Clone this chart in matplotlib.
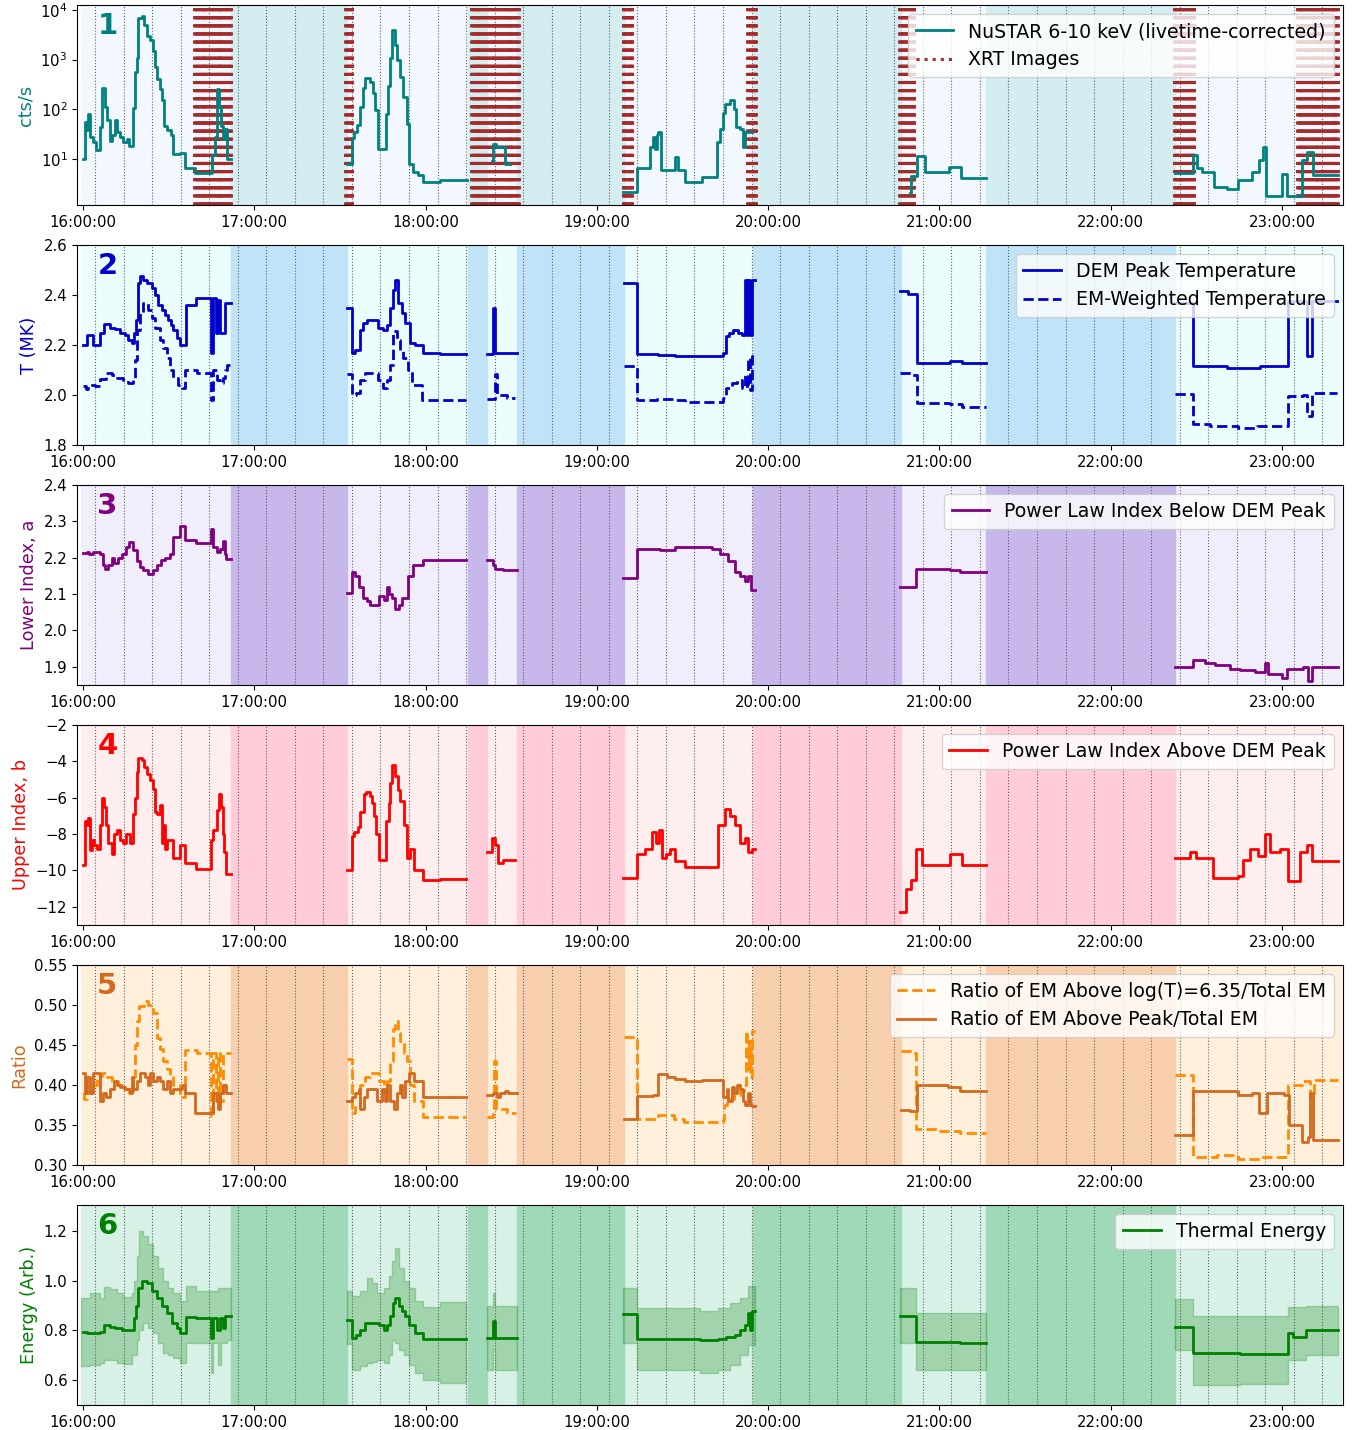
#!/usr/bin/env python3
"""Six-panel time series: NuSTAR counts and DEM-derived parameters."""

import datetime as dt

import matplotlib
matplotlib.use("Agg")
import matplotlib.dates as mdates
import matplotlib.pyplot as plt
import numpy as np
from matplotlib.ticker import NullLocator

# --------------------------------------------------------------------------
# data: times are minutes after 16:00:00, one inner list per observing orbit
# --------------------------------------------------------------------------

NUSTAR_T = [
    [0.1, 0.7, 1.5, 1.9, 2.5, 3.4, 4.6, 5.9, 6.5, 7.7, 8.5, 9.5, 10.3, 11.2, 12.0,
     12.9, 13.9, 15.3, 16.2, 17.4, 18.2, 18.8, 19.4, 20.5, 21.4, 22.3, 23.5, 24.4,
     25.2, 26.1, 27.0, 27.8, 28.5, 29.3, 30.7, 31.6, 34.0, 35.7, 39.2, 45.1, 46.2,
     47.1, 47.8, 48.2, 48.9, 49.7, 50.3, 51.7],
    [92.4, 94.1, 94.9, 96.1, 97.0, 98.0, 98.8, 100.5, 101.5, 102.3, 103.5, 106.2,
     107.0, 107.6, 108.2, 109.3, 110.1, 111.0, 112.2, 113.4, 114.3, 115.7, 117.5,
     119.0, 125.0, 134.5],
    [143.2, 143.5, 144.7, 147.8, 149.6],
    [189.3, 194.0, 198.6, 199.6, 200.4, 201.0, 201.6, 202.4, 207.4, 208.5, 210.9,
     216.7, 222.0, 223.1, 224.1, 224.9, 226.6, 228.0, 228.7, 230.1, 231.1, 231.9,
     234.2],
    [289.7, 289.9, 292.0, 295.0, 303.5, 307.5, 316.3],
    [382.5, 389.0, 390.1, 391.9, 396.2, 400.9, 404.7, 409.4, 412.1, 413.5, 414.4,
     419.9, 421.9, 426.9, 428.9, 431.0, 439.7],
]
NUSTAR_CTS = [
    [10, 55, 38, 80, 27, 22, 15, 44, 270, 110, 60, 23, 30, 60, 35, 27, 22, 25, 18,
     105, 550, 1100, 7000, 7500, 5000, 3000, 2500, 1500, 700, 400, 250, 150, 45, 38,
     30, 12.5, 13, 6.5, 5.2, 12, 28, 250, 110, 45, 25, 40, 10, 10],
    [8, 26, 35, 48, 110, 270, 420, 350, 210, 95, 16, 80, 300, 1100, 4000, 2000,
     1000, 450, 175, 50, 8, 5.4, 4.8, 3.4, 3.7, 3.7],
    [9, 20, 17, 8, 8],
    [2.1, 6.5, 17, 28, 16, 30, 35, 5.9, 11, 6, 3.4, 4.3, 22, 40, 83, 130, 150, 100,
     44, 40, 17, 35, 35],
    [2, 4.6, 11.5, 5.3, 6.8, 4.1, 4.1],
    [5.1, 11.8, 6.4, 5.3, 2.7, 2.5, 3.7, 5.4, 9.5, 17, 1.8, 4.9, 1.8, 9.3, 13.8,
     4.7, 4.7],
]

XRT_WINDOWS = [(38.9, 51.7), (91.8, 94.3), (135.9, 152.7), (189.0, 192.5),
               (232.6, 235.6), (286.0, 291.1), (382.1, 389.2), (425.2, 439.7)]

TPEAK_T = [
    [0, 1.5, 3.4, 6.0, 7.4, 9.5, 11.2, 13.0, 14.7, 15.9, 17.0, 17.9, 18.6, 19.2,
     20.0, 21.1, 22.3, 24.1, 25.2, 26.4, 27.6, 28.7, 29.9, 30.7, 31.6, 32.8, 34.0,
     36.1, 39.6, 44.7, 45.7, 46.6, 47.4, 48.0, 49.4, 49.7, 51.7],
    [92.4, 94.1, 95.3, 97.0, 98.2, 99.4, 103.5, 105.2, 106.4, 107.6, 108.5, 109.3,
     110.5, 111.6, 112.8, 114.5, 116.3, 119.0, 125.0, 134.2],
    [141.4, 143.7, 144.4, 152.1],
    [189.5, 194.2, 201.6, 207.4, 222.0, 224.1, 225.2, 226.4, 227.8, 229.6, 230.7,
     231.9, 232.5, 233.1, 233.6, 234.2, 235.4],
    [286.2, 289.1, 292.0, 303.7, 307.8, 316.3],
    [382.5, 388.7, 400.6, 412.3, 422.2, 428.9, 430.4, 439.2],
]
TPEAK = [
    [2.20, 2.24, 2.20, 2.25, 2.285, 2.27, 2.265, 2.25, 2.24, 2.22, 2.21, 2.25, 2.30,
     2.45, 2.475, 2.46, 2.45, 2.43, 2.40, 2.36, 2.34, 2.32, 2.30, 2.28, 2.26, 2.23,
     2.20, 2.36, 2.39, 2.17, 2.39, 2.25, 2.38, 2.25, 2.25, 2.37, 2.37],
    [2.35, 2.17, 2.18, 2.26, 2.29, 2.30, 2.27, 2.26, 2.28, 2.35, 2.42, 2.46, 2.37,
     2.33, 2.29, 2.21, 2.20, 2.17, 2.165, 2.165],
    [2.165, 2.35, 2.17, 2.17],
    [2.45, 2.165, 2.16, 2.155, 2.155, 2.17, 2.235, 2.25, 2.26, 2.25, 2.24, 2.46,
     2.24, 2.46, 2.24, 2.46, 2.46],
    [2.415, 2.405, 2.13, 2.135, 2.13, 2.13],
    [2.37, 2.115, 2.11, 2.115, 2.375, 2.155, 2.375, 2.375],
]

TEM_T = [
    [0, 1.05, 1.9, 4.2, 6.0, 8.1, 10.0, 11.8, 14.1, 15.9, 17.6, 18.2, 18.8, 20.0,
     21.1, 22.9, 24.1, 25.2, 27.0, 28.1, 29.3, 30.5, 31.6, 33.4, 34.6, 35.7, 39.8,
     43.9, 44.7, 45.7, 46.8, 48.0, 49.1, 49.7, 50.3, 51.7],
    [92.4, 94.1, 95.6, 97.0, 98.8, 100.5, 103.5, 105.2, 106.4, 107.6, 108.7, 109.9,
     111.0, 112.2, 114.0, 115.1, 118.6, 125.0, 134.2],
    [141.4, 144.3, 144.9, 147.2, 148.4, 151.3],
    [189.5, 194.0, 201.0, 207.4, 210.9, 224.3, 225.2, 227.2, 229.0, 230.7, 231.9,
     232.5, 233.1, 233.6, 234.2, 235.4],
    [286.2, 290.3, 292.0, 303.7, 307.8, 316.3],
    [382.5, 388.7, 394.8, 404.7, 411.1, 422.2, 427.5, 428.9, 430.4, 439.2],
]
TEM = [
    [2.035, 2.025, 2.04, 2.035, 2.063, 2.09, 2.08, 2.07, 2.06, 2.05, 2.06, 2.14,
     2.26, 2.33, 2.37, 2.34, 2.31, 2.27, 2.22, 2.19, 2.15, 2.10, 2.07, 2.04, 2.03,
     2.10, 2.09, 2.09, 1.98, 2.10, 2.06, 2.05, 2.07, 2.10, 2.12, 2.12],
    [2.085, 2.0, 2.01, 2.06, 2.09, 2.09, 2.06, 2.03, 2.06, 2.12, 2.255, 2.22, 2.18,
     2.15, 2.10, 2.04, 1.98, 1.98, 1.98],
    [1.985, 2.085, 2.0, 2.0, 1.99, 1.99],
    [2.115, 1.98, 1.985, 1.98, 1.972, 1.99, 2.03, 2.05, 2.06, 2.03, 2.08, 2.03,
     2.15, 2.02, 2.155, 2.155],
    [2.09, 2.08, 1.97, 1.965, 1.953, 1.953],
    [2.005, 1.883, 1.875, 1.87, 1.875, 1.996, 2.0, 1.916, 2.01, 2.01],
]

LOWER_T = [
    [0, 1.28, 2.22, 3.62, 5.96, 7.12, 7.71, 8.88, 10.04, 10.86, 12.38, 13.55, 15.06,
     16.23, 17.64, 18.81, 19.97, 21.14, 22.89, 24.64, 25.81, 27.21, 28.73, 30.48,
     31.65, 33.99, 35.74, 39.59, 44.73, 45.42, 46.82, 48.0, 48.93, 49.75, 50.1,
     51.73],
    [92.44, 94.19, 95.36, 96.53, 98.05, 99.45, 100.62, 103.53, 105.28, 106.45,
     107.04, 108.2, 109.37, 110.54, 111.7, 113.69, 115.56, 119.06, 125.13, 134.2],
    [141.4, 143.5, 144.5, 147.0, 152.1],
    [189.2, 194.1, 202.1, 207.4, 216.1, 220.3, 223.1, 225.9, 228.4, 230.1, 231.9,
     232.9, 234.0, 235.4],
    [286.2, 291.8, 303.7, 307.2, 316.3],
    [382.5, 388.8, 393.0, 396.5, 401.8, 405.3, 410.5, 414.1, 415.1, 420.0, 421.8,
     427.4, 429.1, 430.5, 439.6],
]
LOWER = [
    [2.213, 2.215, 2.21, 2.215, 2.21, 2.18, 2.17, 2.18, 2.20, 2.185, 2.20, 2.21,
     2.23, 2.242, 2.22, 2.19, 2.175, 2.165, 2.154, 2.165, 2.18, 2.195, 2.20, 2.21,
     2.257, 2.288, 2.25, 2.24, 2.28, 2.23, 2.215, 2.225, 2.245, 2.21, 2.196, 2.196],
    [2.104, 2.162, 2.15, 2.12, 2.09, 2.08, 2.07, 2.095, 2.085, 2.12, 2.10, 2.09,
     2.06, 2.07, 2.09, 2.15, 2.18, 2.195, 2.195, 2.195],
    [2.195, 2.18, 2.17, 2.165, 2.165],
    [2.145, 2.225, 2.22, 2.23, 2.23, 2.225, 2.21, 2.19, 2.16, 2.15, 2.135, 2.15,
     2.11, 2.11],
    [2.12, 2.17, 2.165, 2.16, 2.16],
    [1.9, 1.918, 1.91, 1.905, 1.895, 1.89, 1.885, 1.91, 1.88, 1.87, 1.895, 1.9,
     1.86, 1.9, 1.9],
]

UPPER_T = [
    [0, 0.72, 1.54, 1.89, 2.45, 3.04, 3.85, 4.79, 5.96, 6.54, 7.36, 8.06, 8.88,
     10.04, 10.86, 11.79, 12.96, 13.9, 15.07, 16.47, 17.64, 18.22, 18.81, 19.16,
     20.56, 21.37, 22.31, 23.47, 24.41, 25.23, 26.05, 26.98, 27.56, 28.15, 28.73,
     29.31, 30.48, 31.42, 33.99, 35.74, 39.59, 44.73, 45.66, 47.06, 47.65, 48.23,
     48.93, 49.52, 50.1, 51.73],
    [92.44, 94.19, 95.01, 96.18, 97.11, 98.28, 99.21, 100.38, 101.2, 102.02, 102.72,
     103.53, 106.22, 107.04, 107.62, 108.2, 109.37, 110.19, 111.12, 112.29, 113.46,
     114.39, 115.79, 119.06, 125.13, 134.2],
    [141.4, 143.2, 144.5, 145.5, 147.0, 151.5],
    [189.2, 194.1, 196.9, 199.3, 200.7, 201.8, 202.8, 204.2, 205.6, 207.4, 210.9,
     222.4, 224.9, 226.6, 228.4, 230.1, 231.9, 232.9, 234.3, 235.4],
    [286.2, 288.3, 290.1, 291.8, 293.9, 303.7, 307.9, 316.3],
    [382.5, 387.8, 389.9, 395.8, 404.6, 406.4, 408.8, 411.6, 414.1, 415.8, 419.3,
     422.1, 426.3, 428.8, 430.5, 439.6],
]
UPPER = [
    [-9.7, -7.3, -7.5, -7.1, -8.9, -8.3, -8.6, -8.8, -7.5, -6.0, -6.5, -7.5, -8.5,
     -9.1, -8.0, -7.8, -8.3, -8.5, -8.0, -8.5, -6.9, -6.0, -4.6, -3.8, -3.9, -4.3,
     -4.7, -5.0, -5.5, -6.8, -6.9, -6.4, -8.5, -7.5, -8.8, -8.3, -8.3, -9.3, -8.6,
     -9.6, -9.9, -8.3, -7.8, -6.7, -5.8, -6.5, -8.0, -9.0, -10.2, -10.2],
    [-10.0, -8.1, -7.9, -7.6, -6.8, -5.8, -5.7, -5.9, -6.3, -7.0, -8.0, -9.4, -7.3,
     -6.3, -5.2, -4.2, -4.8, -5.6, -6.2, -7.5, -9.3, -8.8, -10.0, -10.5, -10.45,
     -10.45],
    [-9.0, -8.2, -8.6, -9.6, -9.4, -9.4],
    [-10.4, -9.1, -8.8, -7.9, -8.5, -7.8, -9.3, -9.1, -8.8, -9.5, -9.8, -7.5, -6.6,
     -7.0, -7.5, -8.5, -8.2, -9.0, -8.8, -8.8],
    [-12.3, -11.0, -10.5, -8.8, -9.7, -9.1, -9.7, -9.7],
    [-9.3, -9.0, -9.3, -10.4, -10.3, -9.4, -8.8, -9.2, -8.0, -9.0, -8.8, -10.6,
     -9.0, -8.6, -9.5, -9.5],
]

RATIO_HOT_T = [
    [0, 0.26, 1.54, 3.04, 4.79, 6.54, 8.29, 10.04, 12.38, 14.37, 16.23, 17.64,
     18.22, 18.81, 19.74, 21.37, 22.89, 24.41, 25.81, 26.98, 28.15, 29.31, 30.48,
     31.65, 33.99, 35.74, 39.82, 44.73, 45.66, 46.59, 47.41, 48.0, 48.93, 49.52,
     51.73],
    [92.44, 94.19, 95.36, 97.11, 98.86, 100.62, 103.53, 105.28, 106.45, 107.62,
     108.55, 109.37, 110.19, 111.12, 112.29, 113.46, 114.63, 115.79, 119.06, 125.13,
     134.2],
    [141.4, 143.5, 144.1, 144.7, 146.1, 148.4, 151.7],
    [189.5, 194.0, 201.3, 206.9, 210.4, 224.2, 224.7, 225.6, 228.0, 230.3, 231.5,
     232.1, 232.6, 233.2, 233.8, 234.4, 235.5],
    [286.4, 290.3, 291.8, 300.2, 303.7, 307.2, 316.3],
    [382.5, 388.9, 397.1, 404.7, 412.3, 422.2, 426.9, 430.0, 431.1, 439.7],
]
RATIO_HOT = [
    [0.39, 0.382, 0.39, 0.40, 0.411, 0.415, 0.41, 0.405, 0.40, 0.395, 0.39, 0.41,
     0.45, 0.48, 0.499, 0.505, 0.50, 0.49, 0.459, 0.445, 0.43, 0.42, 0.41, 0.40,
     0.385, 0.444, 0.44, 0.361, 0.44, 0.38, 0.44, 0.38, 0.44, 0.44, 0.44],
    [0.432, 0.365, 0.375, 0.40, 0.41, 0.415, 0.405, 0.39, 0.405, 0.43, 0.47, 0.48,
     0.465, 0.455, 0.44, 0.43, 0.40, 0.38, 0.36, 0.36, 0.36],
    [0.36, 0.367, 0.43, 0.37, 0.37, 0.365, 0.365],
    [0.46, 0.358, 0.362, 0.358, 0.354, 0.356, 0.375, 0.383, 0.388, 0.392, 0.40,
     0.467, 0.42, 0.455, 0.41, 0.467, 0.467],
    [0.4425, 0.44, 0.345, 0.343, 0.3425, 0.34, 0.34],
    [0.413, 0.31, 0.312, 0.307, 0.31, 0.40, 0.405, 0.385, 0.406, 0.406],
]

RATIO_PEAK_T = [
    [0, 0.72, 1.54, 2.45, 3.62, 5.96, 7.12, 8.06, 9.46, 10.86, 11.79, 12.96, 14.71,
     16.47, 17.05, 17.64, 18.81, 19.97, 21.72, 22.89, 23.47, 24.64, 25.81, 26.98,
     28.15, 29.31, 30.48, 31.65, 34.57, 35.74, 39.24, 44.49, 45.66, 46.82, 47.41,
     48.0, 49.17, 50.1, 51.73],
    [92.44, 94.19, 95.36, 96.53, 97.11, 98.28, 99.45, 102.95, 104.7, 105.87, 106.45,
     107.62, 108.79, 109.95, 111.12, 111.7, 112.87, 114.04, 115.79, 119.06, 125.13,
     134.2],
    [141.4, 143.5, 145.1, 146.1, 147.8, 149.0, 152.1],
    [189.5, 194.2, 199.8, 201.6, 204.5, 207.4, 210.9, 216.7, 224.3, 225.5, 226.1,
     227.2, 228.0, 229.0, 230.1, 231.3, 231.9, 233.1, 233.6, 234.2, 235.5],
    [286.4, 289.7, 292.0, 303.1, 307.2, 316.3],
    [382.5, 388.9, 401.8, 404.7, 409.4, 412.1, 414.7, 420.7, 422.6, 426.9, 429.2,
     430.0, 430.8, 439.7],
]
RATIO_PEAK = [
    [0.415, 0.39, 0.41, 0.39, 0.415, 0.38, 0.39, 0.385, 0.395, 0.405, 0.40, 0.398,
     0.395, 0.39, 0.41, 0.395, 0.405, 0.415, 0.41, 0.40, 0.415, 0.405, 0.41, 0.405,
     0.395, 0.405, 0.39, 0.395, 0.40, 0.39, 0.365, 0.365, 0.39, 0.38, 0.37, 0.39,
     0.40, 0.39, 0.39],
    [0.38, 0.385, 0.39, 0.395, 0.37, 0.385, 0.395, 0.38, 0.395, 0.38, 0.40, 0.38,
     0.37, 0.39, 0.40, 0.385, 0.405, 0.415, 0.405, 0.385, 0.385, 0.385],
    [0.388, 0.39, 0.385, 0.39, 0.393, 0.39, 0.39],
    [0.358, 0.386, 0.387, 0.414, 0.41, 0.408, 0.405, 0.406, 0.385, 0.395, 0.38,
     0.398, 0.39, 0.40, 0.395, 0.38, 0.375, 0.39, 0.375, 0.374, 0.374],
    [0.369, 0.368, 0.40, 0.398, 0.393, 0.393],
    [0.3375, 0.392, 0.392, 0.387, 0.39, 0.365, 0.39, 0.388, 0.35, 0.329, 0.335,
     0.39, 0.331, 0.331],
]

ENERGY_T = [
    [0, 1.54, 5.96, 7.36, 9.46, 11.21, 13.55, 16.47, 17.87, 18.57, 19.39, 20.56,
     22.31, 24.06, 25.81, 27.56, 29.31, 31.06, 32.82, 33.99, 36.09, 39.59, 44.73,
     45.66, 47.06, 48.0, 49.17, 49.75, 51.73],
    [92.44, 94.19, 95.6, 97.11, 98.86, 101.2, 103.53, 105.28, 106.45, 107.62,
     108.55, 109.37, 110.54, 111.7, 112.87, 114.04, 116.38, 119.06, 125.13, 134.2],
    [141.4, 143.7, 144.4, 152.1],
    [189.2, 194.1, 216.1, 222.4, 225.2, 228.4, 230.1, 231.9, 232.9, 233.6, 234.3,
     235.4],
    [286.2, 291.8, 307.2, 316.3],
    [382.5, 388.8, 405.3, 422.1, 424.0, 428.5, 439.6],
]
ENERGY = [
    [0.795, 0.79, 0.795, 0.82, 0.815, 0.81, 0.80, 0.80, 0.85, 0.90, 0.97, 1.0,
     0.99, 0.96, 0.93, 0.90, 0.87, 0.83, 0.81, 0.79, 0.855, 0.85, 0.77, 0.85, 0.80,
     0.85, 0.81, 0.86, 0.86],
    [0.842, 0.768, 0.78, 0.80, 0.83, 0.83, 0.82, 0.80, 0.82, 0.86, 0.91, 0.93,
     0.90, 0.88, 0.86, 0.82, 0.79, 0.765, 0.765, 0.765],
    [0.77, 0.84, 0.77, 0.77],
    [0.865, 0.764, 0.76, 0.765, 0.775, 0.78, 0.80, 0.82, 0.87, 0.80, 0.88, 0.88],
    [0.86, 0.753, 0.75, 0.75],
    [0.815, 0.71, 0.705, 0.79, 0.775, 0.80, 0.80],
]

BAND_T = [
    [-0.7, 2.45, 5.96, 7.36, 9.46, 11.79, 14.13, 17.05, 17.87, 18.81, 19.74, 21.14,
     22.89, 24.64, 26.39, 28.15, 29.9, 31.65, 33.99, 36.09, 39.59, 44.73, 45.66,
     47.41, 48.23, 49.17, 50.34, 51.73],
    [92.44, 94.19, 97.11, 99.45, 101.2, 102.95, 105.28, 107.04, 108.2, 109.37,
     110.54, 112.29, 114.04, 116.38, 119.06, 125.13, 134.2],
    [141.4, 143.7, 144.4, 152.1],
    [189.2, 194.1, 216.1, 222.4, 226.6, 230.1, 232.9, 235.4],
    [286.2, 291.8, 316.3],
    [382.5, 388.8, 405.3, 422.1, 428.5, 439.6],
]
BAND_HI = [
    [0.93, 0.95, 0.93, 0.975, 0.965, 0.95, 0.935, 0.95, 1.0, 1.1, 1.2, 1.18, 1.15,
     1.1, 1.05, 1.0, 0.97, 0.95, 0.92, 0.98, 0.96, 0.96, 0.96, 0.97, 0.97, 0.97,
     0.97, 0.97],
    [0.96, 0.94, 0.96, 1.01, 0.99, 0.95, 0.97, 1.02, 1.08, 1.13, 1.05, 1.0, 0.97,
     0.92, 0.895, 0.915, 0.915],
    [0.9, 0.95, 0.9, 0.9],
    [0.97, 0.89, 0.88, 0.89, 0.91, 0.93, 0.98, 0.98],
    [0.97, 0.87, 0.87],
    [0.925, 0.86, 0.86, 0.895, 0.9, 0.9],
]
BAND_LO = [
    [0.655, 0.66, 0.67, 0.68, 0.68, 0.67, 0.665, 0.70, 0.70, 0.76, 0.80, 0.83, 0.81,
     0.79, 0.75, 0.71, 0.70, 0.69, 0.67, 0.75, 0.75, 0.63, 0.75, 0.66, 0.75, 0.75,
     0.76, 0.76],
    [0.745, 0.64, 0.655, 0.67, 0.675, 0.68, 0.67, 0.70, 0.76, 0.75, 0.72, 0.70,
     0.66, 0.63, 0.60, 0.59, 0.59],
    [0.64, 0.72, 0.64, 0.64],
    [0.75, 0.64, 0.63, 0.64, 0.66, 0.70, 0.74, 0.74],
    [0.75, 0.64, 0.64],
    [0.72, 0.58, 0.585, 0.68, 0.70, 0.70],
]

# orbit windows (observed) and the gaps between them
ORBITS = [(-0.7, 51.8), (92.4, 134.8), (141.4, 152.1), (189.5, 234.8),
          (286.4, 316.3), (382.5, 440.9)]
GAPS = [(51.8, 92.4), (134.8, 141.4), (152.1, 189.5), (234.8, 286.4),
        (316.3, 382.5)]
GRID_START, GRID_STEP, GRID_END = 4.2, 10.0, 435.0

# --------------------------------------------------------------------------

BASE = mdates.date2num(dt.datetime(2020, 1, 1, 16, 0, 0))


def to_num(minutes):
    return BASE + np.asarray(minutes, dtype=float) / 1440.0


def joined(t_segs, *v_segs):
    """Concatenate orbit segments with NaN separators."""
    xs, ys = [], [[] for _ in v_segs]
    for i, t in enumerate(t_segs):
        xs.extend(t + [np.nan])
        for k, v in enumerate(v_segs):
            ys[k].extend(v[i] + [np.nan])
    return (to_num(xs),) + tuple(np.array(y) for y in ys)


def decorate(ax, light, dark):
    for a, b in ORBITS:
        ax.axvspan(to_num(a), to_num(b), color=light, lw=0, zorder=0)
    for a, b in GAPS:
        ax.axvspan(to_num(a), to_num(b), facecolor=dark, edgecolor=dark,
                   lw=1, zorder=0)
    for m in np.arange(GRID_START, GRID_END, GRID_STEP):
        ax.axvline(to_num(m), color="0.25", lw=0.8, ls=":", alpha=0.8, zorder=1)
    ax.set_xlim(to_num(-2.1), to_num(441.4))
    ax.xaxis.set_major_locator(mdates.HourLocator())
    ax.xaxis.set_major_formatter(mdates.DateFormatter("%H:%M:%S"))
    ax.tick_params(labelsize=10.7)


def panel_tag(ax, text, color):
    ax.text(0.016, 0.965, text, transform=ax.transAxes, fontsize=21,
            fontweight="bold", color=color, va="top", ha="left", zorder=10)


fig = plt.figure(figsize=(13.64, 14.30), dpi=100)
axes = []
for i in range(6):
    bottom = 1 - (205 + 240 * i) / 1430
    axes.append(fig.add_axes([77 / 1364, bottom, 1266 / 1364, 200 / 1430]))
ax1, ax2, ax3, ax4, ax5, ax6 = axes

LEG = dict(loc="upper right", fontsize=13.6)
LW = 2.0

# ---- panel 1: NuSTAR lightcurve + XRT images ----
decorate(ax1, "#f2f8fd", "#d4edf1")
for k, (a, b) in enumerate(XRT_WINDOWS):
    for m in np.append(np.arange(a, b, 0.33), b):
        ax1.axvline(to_num(m), color="#a52a2a", ls=":", lw=2.2, zorder=2,
                    label="XRT Images" if (k == 0 and m == a) else None)
x, y = joined(NUSTAR_T, NUSTAR_CTS)
ax1.step(x, y, where="post", color="teal", lw=LW, zorder=3,
         label="NuSTAR 6-10 keV (livetime-corrected)")
ax1.set_yscale("log")
ax1.set_ylim(1.17, 1.26e4)
ax1.yaxis.set_minor_locator(NullLocator())
ax1.set_ylabel("cts/s", color="teal", fontsize=12.8)
h, l = ax1.get_legend_handles_labels()
ax1.legend(h[::-1], l[::-1], **LEG)
panel_tag(ax1, "1", "teal")

# ---- panel 2: temperatures ----
decorate(ax2, "#ecfdfd", "#c0e3f8")
x, y = joined(TPEAK_T, TPEAK)
ax2.step(x, y, where="post", color="mediumblue", lw=LW, label="DEM Peak Temperature")
x, y = joined(TEM_T, TEM)
ax2.step(x, y, where="post", color="mediumblue", lw=LW, ls="--",
         label="EM-Weighted Temperature")
ax2.set_ylim(1.8, 2.6)
ax2.set_yticks([1.8, 2.0, 2.2, 2.4, 2.6])
ax2.set_ylabel("T (MK)", color="mediumblue", fontsize=12.8)
ax2.legend(**LEG)
panel_tag(ax2, "2", "mediumblue")

# ---- panel 3: lower power-law index ----
decorate(ax3, "#f0eefa", "#c8b7eb")
x, y = joined(LOWER_T, LOWER)
ax3.step(x, y, where="post", color="purple", lw=LW,
         label="Power Law Index Below DEM Peak")
ax3.set_ylim(1.85, 2.4)
ax3.set_yticks([1.9, 2.0, 2.1, 2.2, 2.3, 2.4])
ax3.set_ylabel("Lower Index, a", color="purple", fontsize=12.8)
ax3.legend(**LEG)
panel_tag(ax3, "3", "purple")

# ---- panel 4: upper power-law index ----
decorate(ax4, "#ffeeee", "#ffccd7")
x, y = joined(UPPER_T, UPPER)
ax4.step(x, y, where="post", color="red", lw=LW,
         label="Power Law Index Above DEM Peak")
ax4.set_ylim(-13, -2)
ax4.set_yticks([-12, -10, -8, -6, -4, -2])
ax4.set_ylabel("Upper Index, b", color="red", fontsize=12.8)
ax4.legend(**LEG)
panel_tag(ax4, "4", "red")

# ---- panel 5: EM ratios ----
decorate(ax5, "#ffefdb", "#f7cfad")
x, y = joined(RATIO_HOT_T, RATIO_HOT)
ax5.step(x, y, where="post", color="darkorange", lw=LW, ls="--",
         label="Ratio of EM Above log(T)=6.35/Total EM")
x, y = joined(RATIO_PEAK_T, RATIO_PEAK)
ax5.step(x, y, where="post", color="chocolate", lw=LW,
         label="Ratio of EM Above Peak/Total EM")
ax5.set_ylim(0.30, 0.55)
ax5.set_yticks([0.30, 0.35, 0.40, 0.45, 0.50, 0.55])
ax5.set_ylabel("Ratio", color="chocolate", fontsize=12.8)
ax5.legend(**LEG)
panel_tag(ax5, "5", "chocolate")

# ---- panel 6: thermal energy ----
decorate(ax6, "#d7f1e6", "#9fd9b7")
x, lo, hi = joined(BAND_T, BAND_LO, BAND_HI)
ax6.fill_between(x, lo, hi, step="post", color="green", alpha=0.25, lw=1,
                 zorder=2)
x, y = joined(ENERGY_T, ENERGY)
ax6.step(x, y, where="post", color="green", lw=LW, zorder=3,
         label="Thermal Energy")
ax6.set_ylim(0.5, 1.305)
ax6.set_yticks([0.6, 0.8, 1.0, 1.2])
ax6.set_ylabel("Energy (Arb.)", color="green", fontsize=12.8)
ax6.legend(**LEG)
panel_tag(ax6, "6", "green")

fig.savefig("out.png", dpi=100)
